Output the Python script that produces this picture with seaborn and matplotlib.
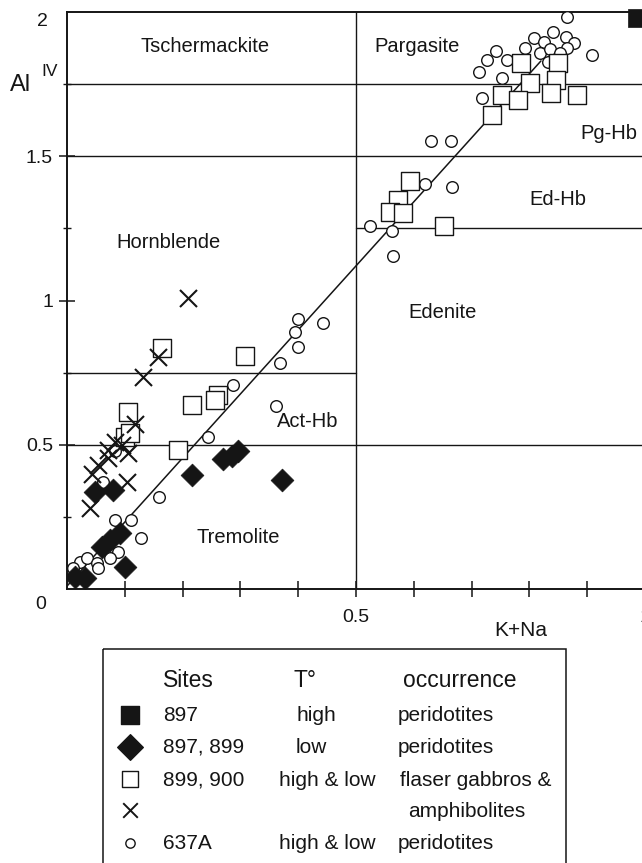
import numpy as np
import pandas as pd
import matplotlib
matplotlib.use("Agg")
import matplotlib.pyplot as plt
import seaborn as sns
from matplotlib.patches import Rectangle

# ---------------- data (K+Na, Al IV) ----------------
# Site 897, high T, peridotites (filled square)
s897_x = [0.986]
s897_y = [1.979]

# Sites 897, 899, low T, peridotites (filled diamonds)
s897_899_x = [0.270, 0.296, 0.285, 0.216, 0.372, 0.048, 0.080, 0.074, 0.092, 0.061, 0.100, 0.014, 0.031]
s897_899_y = [0.450, 0.480, 0.460, 0.395, 0.378, 0.336, 0.343, 0.170, 0.194, 0.146, 0.076, 0.042, 0.038]

# Sites 899, 900, flaser gabbros (open squares)
s899_900_sq_x = [0.785, 0.849, 0.801, 0.846, 0.753, 0.780, 0.837, 0.882, 0.735,
                 0.593, 0.573, 0.559, 0.581, 0.652,
                 0.164, 0.308, 0.261, 0.256, 0.216, 0.192, 0.106, 0.100, 0.109]
s899_900_sq_y = [1.823, 1.823, 1.754, 1.764, 1.712, 1.695, 1.719, 1.712, 1.642,
                 1.414, 1.348, 1.307, 1.303, 1.258,
                 0.835, 0.808, 0.672, 0.655, 0.638, 0.482, 0.614, 0.527, 0.541]

# Sites 899, 900, amphibolites (crosses)
s899_900_x_x = [0.209, 0.157, 0.131, 0.118, 0.083, 0.071, 0.106, 0.054, 0.071, 0.043, 0.104, 0.040, 0.095]
s899_900_x_y = [1.009, 0.804, 0.735, 0.572, 0.510, 0.482, 0.471, 0.430, 0.454, 0.400, 0.371, 0.281, 0.500]

# Site 637A, peridotites (open circles)
s637_x = [0.865, 0.841, 0.808, 0.825, 0.863, 0.877, 0.792, 0.818, 0.836, 0.865, 0.742, 0.727, 0.761,
          0.908, 0.713, 0.753, 0.718, 0.832, 0.853,
          0.630, 0.664, 0.619, 0.666, 0.524, 0.562, 0.564,
          0.400, 0.443, 0.394, 0.400, 0.369, 0.287, 0.362, 0.244, 0.159,
          0.062, 0.083, 0.111, 0.128, 0.088, 0.074, 0.022, 0.035, 0.052, 0.054, 0.011, 0.083]
s637_y = [1.983, 1.931, 1.910, 1.896, 1.913, 1.893, 1.875, 1.858, 1.872, 1.875, 1.865, 1.834, 1.834,
          1.851, 1.792, 1.771, 1.702, 1.827, 1.858,
          1.553, 1.553, 1.404, 1.393, 1.258, 1.241, 1.154,
          0.936, 0.922, 0.891, 0.839, 0.783, 0.707, 0.634, 0.527, 0.319,
          0.371, 0.239, 0.239, 0.177, 0.128, 0.107, 0.094, 0.107, 0.090, 0.073, 0.073, 0.480]

# Trend line
fit_slope = 2.22
fit_intercept = 0.01
fit_xrange = [0.0, 0.82]

# Classification field labels
field_names = ["Tschermackite", "Pargasite", "Pg-Hb", "Ed-Hb", "Hornblende", "Edenite", "Act-Hb", "Tremolite"]
field_x = [0.239, 0.606, 0.938, 0.850, 0.175, 0.650, 0.417, 0.296]
field_y = [1.879, 1.879, 1.580, 1.350, 1.200, 0.957, 0.579, 0.180]

# Legend table
legend_header = ["Sites", "T°", "occurrence"]
legend_sites = ["897", "897, 899", "899, 900", "", "637A"]
legend_temp = ["high", "low", "high & low", "", "high & low"]
legend_occ = ["peridotites", "peridotites", "flaser gabbros &", "amphibolites", "peridotites"]

# ---------------- styling ----------------
sns.set_theme(style="white")
plt.rcParams['font.family'] = ['Liberation Sans', 'DejaVu Sans']
INK = "#151515"

W, H = 642, 863
fig = plt.figure(figsize=(W / 100, H / 100), dpi=100)
fig.patch.set_facecolor("white")

ax = fig.add_axes([67 / W, (H - 589) / H, 578 / W, 577 / H])
ax.set_xlim(0, 1)
ax.set_ylim(0, 2)
ax.set_facecolor("white")
for sp in ax.spines.values():
    sp.set_color(INK)
    sp.set_linewidth(1.4)

# field boundaries
lk = dict(color=INK, lw=1.0, zorder=1)
ax.axvline(0.5, **lk)
ax.axhline(0.5, **lk)
ax.axhline(1.5, **lk)
ax.axhline(1.75, **lk)
ax.plot([0, 0.5], [0.75, 0.75], **lk)
ax.plot([0.5, 1.0], [1.25, 1.25], **lk)

# trend line
fx = np.array(fit_xrange)
ax.plot(fx, fit_intercept + fit_slope * fx, color=INK, lw=1.1, zorder=2)

# points
sns.scatterplot(x=s637_x, y=s637_y, marker="o", s=70, color="white", edgecolor=INK,
                linewidth=1.0, ax=ax, zorder=3, legend=False)
sns.scatterplot(x=s899_900_sq_x, y=s899_900_sq_y, marker="s", s=185, color="white", edgecolor=INK,
                linewidth=1.0, ax=ax, zorder=4, legend=False)
sns.scatterplot(x=s899_900_x_x, y=s899_900_x_y, marker="x", s=150, color=INK,
                linewidth=1.5, ax=ax, zorder=5, legend=False)
sns.scatterplot(x=s897_899_x, y=s897_899_y, marker="D", s=135, color=INK, edgecolor=INK,
                linewidth=0.5, ax=ax, zorder=6, legend=False)
sns.scatterplot(x=s897_x, y=s897_y, marker="s", s=185, color=INK, edgecolor=INK,
                linewidth=0.5, ax=ax, zorder=6, legend=False, clip_on=False)

# field labels
for name, x, y in zip(field_names, field_x, field_y):
    ax.text(x, y, name, ha="center", va="center", fontsize=14.5, color=INK, zorder=7)

# ticks
ax.set_xticks([0.5, 1.0])
ax.set_xticklabels(["0.5", "1"])
ax.set_xticks(np.arange(0.1, 1.0, 0.1), minor=True)
ax.set_yticks([0.5, 1.0, 1.5])
ax.set_yticklabels(["0.5", "1", "1.5"])
ax.set_yticks([0.25, 0.75, 1.25, 1.75], minor=True)
ax.tick_params(axis="x", which="both", direction="inout", length=11, width=1.1, color=INK,
               labelsize=14, pad=9, labelcolor=INK)
ax.tick_params(axis="y", which="major", direction="inout", length=12, width=1.1, color=INK,
               labelsize=14, pad=4, labelcolor=INK)
ax.tick_params(axis="y", which="minor", direction="inout", length=6, width=1.0, color=INK)
ax.tick_params(bottom=True, left=True, which="both")
ax.grid(False)

# corner tick labels (offset as in the original)
ax.annotate("2", xy=(0, 2), xycoords="data", xytext=(-14, -7), textcoords="offset points",
            ha="right", va="center", fontsize=14, color=INK, annotation_clip=False)
ax.annotate("0", xy=(0, 0), xycoords="data", xytext=(-15, -11), textcoords="offset points",
            ha="right", va="center", fontsize=14, color=INK, annotation_clip=False)

# axis titles
fig.text(521 / W, 1 - 631 / H, "K+Na", ha="center", va="center", fontsize=15, color=INK)
fig.text(10 / W, 1 - 85 / H, "Al", ha="left", va="center", fontsize=17, color=INK)
fig.text(41 / W, 1 - 71 / H, "IV", ha="left", va="center", fontsize=12.5, color=INK)

# ---------------- legend table ----------------
lg = fig.add_axes([0, 0, 1, 1], zorder=10)
lg.set_xlim(0, W)
lg.set_ylim(H, 0)
lg.axis("off")
lg.patch.set_alpha(0)
lg.add_patch(Rectangle((103, 649), 463, 260, fill=False, lw=1.1, edgecolor=INK, clip_on=False))

hdr_x = [163, 293, 403]
for t, x in zip(legend_header, hdr_x):
    lg.text(x, 680, t, ha="left", va="center", fontsize=16.5, color=INK)

row_y = [715, 747, 780, 811, 843]
site_x = [163, 163, 163, 163, 163]
temp_x = [296, 296, 279, 279, 279]
occ_x = [398, 398, 400, 408, 398]
for i in range(5):
    lg.text(site_x[i], row_y[i], legend_sites[i], ha="left", va="center", fontsize=15, color=INK)
    lg.text(temp_x[i], row_y[i], legend_temp[i], ha="left", va="center", fontsize=15, color=INK)
    lg.text(occ_x[i], row_y[i], legend_occ[i], ha="left", va="center", fontsize=15, color=INK)

sym_y = [715, 747, 779, 810, 843]
lg.scatter([130], [sym_y[0]], marker="s", s=150, color=INK, edgecolor=INK)
lg.scatter([130], [sym_y[1]], marker="D", s=170, color=INK, edgecolor=INK)
lg.scatter([130], [sym_y[2]], marker="s", s=130, facecolor="white", edgecolor=INK, linewidth=1.0)
lg.scatter([130], [sym_y[3]], marker="x", s=110, color=INK, linewidth=1.4)
lg.scatter([130], [sym_y[4]], marker="o", s=45, facecolor="white", edgecolor=INK, linewidth=1.0)

fig.savefig("out.png", dpi=100)
